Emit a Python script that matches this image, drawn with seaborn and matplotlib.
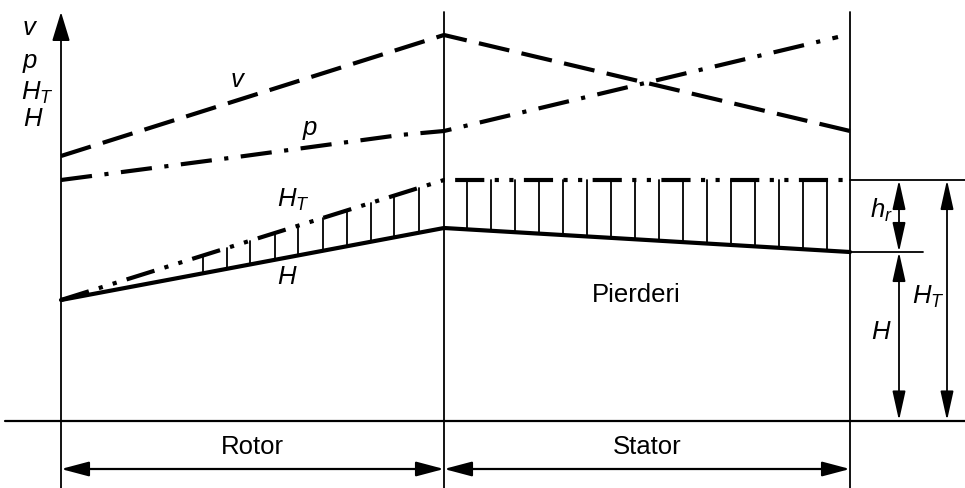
import numpy as np
import matplotlib
matplotlib.use('Agg')
import matplotlib.pyplot as plt
import seaborn as sns

# diagram units: x along the stage, y upward (0 = bottom edge of figure)
stations = [61, 444, 850]              # rotor inlet, rotor/stator, stator outlet
v_vals = [332, 453, 357]               # velocity
p_x = [61, 237, 400, 444, 838]
p_vals = [308, 331, 353, 357, 451]     # pressure
HT_vals = [188, 308, 308]              # theoretical head
H_vals = [188, 260, 236]               # real head
hatch_x = [203, 227, 250, 275, 298, 323, 347, 371, 394, 419,
           467, 491, 515, 539, 563, 587, 611, 635, 659, 683,
           707, 731, 755, 779, 803, 827]
base_y = 67.5
regions = ['Rotor', 'Stator']

sns.set_theme(style='white')
plt.rcParams['font.family'] = ['Liberation Sans', 'DejaVu Sans']
plt.rcParams['mathtext.fontset'] = 'custom'
plt.rcParams['mathtext.it'] = 'Liberation Sans:italic'
plt.rcParams['mathtext.rm'] = 'Liberation Sans'
plt.rcParams['text.color'] = 'black'

fig = plt.figure(figsize=(9.65, 4.88), dpi=100)
ax = fig.add_axes([0, 0, 1, 1])
ax.set_xlim(0, 965)
ax.set_ylim(0, 488)
ax.axis('off')

fs = 18.5
k = 'black'

# frame lines
ax.plot([5, 965], [base_y, base_y], color=k, lw=1.6)
ax.plot([stations[1]] * 2, [0, 476], color=k, lw=1.3)
ax.plot([stations[2]] * 2, [0, 476], color=k, lw=1.3)
ax.annotate('', xy=(stations[0], 476), xytext=(stations[0], 0),
            arrowprops=dict(arrowstyle='-|>,head_length=1.8,head_width=0.55',
                            mutation_scale=10, color=k, lw=1.3,
                            shrinkA=0, shrinkB=0))

# curves
sns.lineplot(x=stations, y=v_vals, ax=ax, color=k, lw=3, sort=False,
             estimator=None, linestyle=(0, (7.5, 3)), dash_capstyle='butt')
sns.lineplot(x=p_x, y=p_vals, ax=ax, color=k, lw=3, sort=False,
             estimator=None, linestyle=(0, (7.5, 3, 1, 3)), dash_capstyle='butt')
sns.lineplot(x=stations, y=HT_vals, ax=ax, color=k, lw=3, sort=False,
             estimator=None, linestyle=(0, (7, 2.5, 1, 2.5, 1, 2.5)),
             dash_capstyle='butt')
sns.lineplot(x=stations, y=H_vals, ax=ax, color=k, lw=3, sort=False,
             estimator=None)

# hatching between H and H_T (losses)
for hx in hatch_x:
    lo = np.interp(hx, stations, H_vals)
    hi = np.interp(hx, stations, HT_vals)
    ax.plot([hx, hx], [lo, hi], color=k, lw=1.3)

# curve labels
ax.text(238, 408, '$v$', fontsize=fs, ha='center', va='center')
ax.text(310, 358, '$p$', fontsize=fs, ha='center', va='center')
ax.text(293, 288, '$H_T$', fontsize=fs, ha='center', va='center')
ax.text(287, 211, '$H$', fontsize=fs, ha='center', va='center')
ax.text(636, 193, 'Pierderi', fontsize=fs, ha='center', va='center')

# axis labels
ax.text(30, 460, '$v$', fontsize=fs, ha='center', va='center')
ax.text(30, 425, '$p$', fontsize=fs, ha='center', va='center')
ax.text(37, 395, '$H_T$', fontsize=fs, ha='center', va='center')
ax.text(33, 369, '$H$', fontsize=fs, ha='center', va='center')

# dimension lines on the right
ax.plot([stations[2], 965], [HT_vals[2], HT_vals[2]], color=k, lw=1.3)
ax.plot([stations[2], 923], [H_vals[2], H_vals[2]], color=k, lw=1.3)
dim = dict(arrowstyle='<|-|>,head_length=1.8,head_width=0.4',
           mutation_scale=10, color=k, lw=1.3, shrinkA=0, shrinkB=0)
ax.annotate('', xy=(899, HT_vals[2]), xytext=(899, H_vals[2]), arrowprops=dim)
ax.annotate('', xy=(899, H_vals[2]), xytext=(899, base_y), arrowprops=dim)
ax.annotate('', xy=(947, HT_vals[2]), xytext=(947, base_y), arrowprops=dim)
ax.text(881, 278, '$h_r$', fontsize=fs, ha='center', va='center')
ax.text(881, 156, '$H$', fontsize=fs, ha='center', va='center')
ax.text(928, 191, '$H_T$', fontsize=fs, ha='center', va='center')

# rotor / stator extents
for i, name in enumerate(regions):
    x0, x1 = stations[i], stations[i + 1]
    ax.annotate('', xy=(x0, 19), xytext=(x1, 19),
                arrowprops=dict(arrowstyle='<|-|>,head_length=1.7,head_width=0.45',
                                mutation_scale=10, color=k, lw=1.6,
                                shrinkA=0, shrinkB=0))
    ax.text((x0 + x1) / 2, 41, name, fontsize=fs, ha='center', va='center')

fig.savefig('out.png', dpi=100)
